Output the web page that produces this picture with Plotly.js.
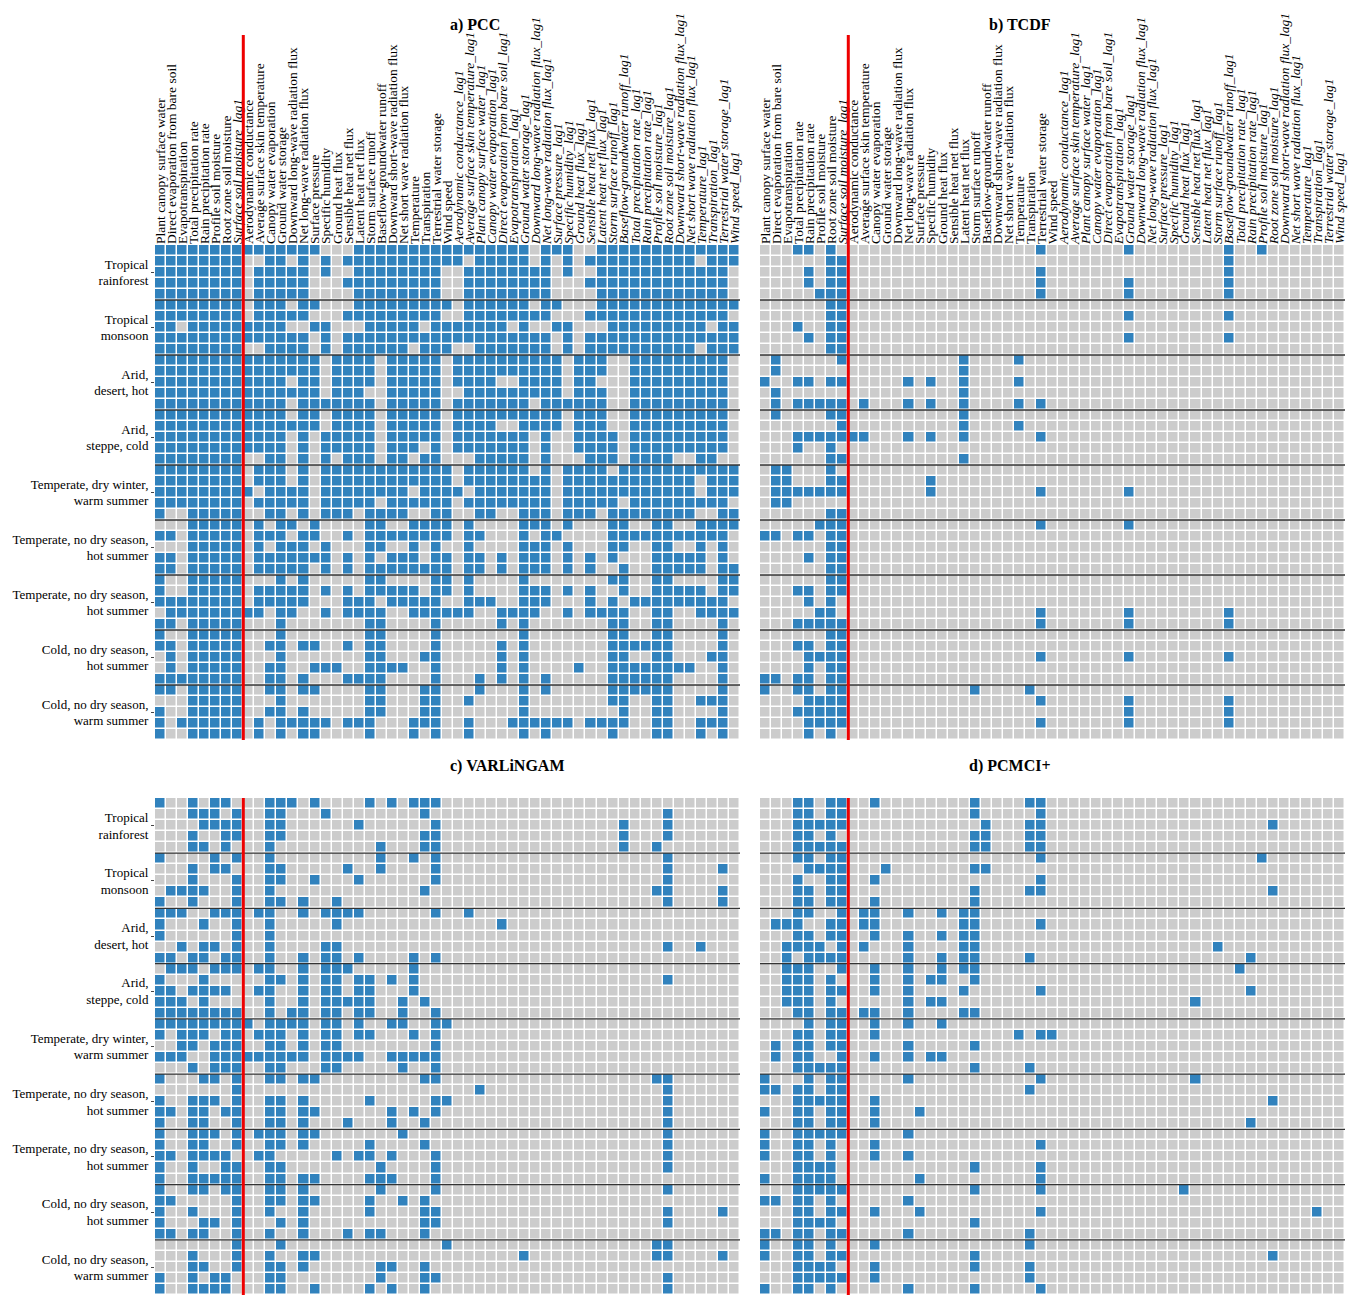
<!DOCTYPE html>
<html>
<head>
<meta charset="utf-8">
<script src="https://cdn.plot.ly/plotly-3.0.1.min.js"></script>
<style>body{margin:0;background:#fff}#plot{width:1351px;height:1296px}</style>
</head>
<body>
<div id="plot"></div>
<script>
const variables = [
  'Plant canopy surface water', 'Direct evaporation from bare soil', 'Evapotranspiration',
  'Total precipitation rate', 'Rain precipitation rate', 'Profile soil moisture',
  'Root zone soil moisture', 'Surface soil moisture_lag1', 'Aerodynamic conductance',
  'Average surface skin temperature', 'Canopy water evaporation', 'Ground water storage',
  'Downward long-wave radiation flux', 'Net long-wave radiation flux', 'Surface pressure',
  'Specific humidity', 'Ground heat flux', 'Sensible heat net flux', 'Latent heat net flux',
  'Storm surface runoff', 'Baseflow-groundwater runoff', 'Downward short-wave radiation flux',
  'Net short wave radiation flux', 'Temperature', 'Transpiration', 'Terrestrial water storage',
  'Wind speed', 'Aerodynamic conductance_lag1', 'Average surface skin temperature_lag1',
  'Plant canopy surface water_lag1', 'Canopy water evaporation_lag1',
  'Direct evaporation from bare soil_lag1', 'Evapotranspiration_lag1', 'Ground water storage_lag1',
  'Downward long-wave radiation flux_lag1', 'Net long-wave radiation flux_lag1',
  'Surface pressure_lag1', 'Specific humidity_lag1', 'Ground heat flux_lag1',
  'Sensible heat net flux_lag1', 'Latent heat net flux_lag1', 'Storm surface runoff_lag1',
  'Baseflow-groundwater runoff_lag1', 'Total precipitation rate_lag1', 'Rain precipitation rate_lag1',
  'Profile soil moisture_lag1', 'Root zone soil moisture_lag1', 'Downward short-wave radiation flux_lag1',
  'Net short wave radiation flux_lag1', 'Temperature_lag1', 'Transpiration_lag1',
  'Terrestrial water storage_lag1', 'Wind speed_lag1',
];

const climates = [
  'Tropical<br>rainforest', 'Tropical<br>monsoon', 'Arid,<br>desert, hot', 'Arid,<br>steppe, cold',
  'Temperate, dry winter,<br>warm summer', 'Temperate, no dry season,<br>hot summer',
  'Temperate, no dry season,<br>hot summer', 'Cold, no dry season,<br>hot summer',
  'Cold, no dry season,<br>warm summer',
];

// PCC: one string per row, 1 = link found
const pccRows = [
  '11111111 1111111000 11111111 11111111011100 1111111111111',
  '11111111 0011010101 11111111 11011111010101 1111111110111',
  '11111111 0111110100 11111111 00111111110100 1111111111110',
  '11111111 0111110001 11111111 00111111110001 1111111111110',
  '11111111 0111110000 11111111 00111111110000 1111111111110',
  '11111111 0111011000 11111111 10111111011000 1111111111111',
  '11111111 0111110001 11111111 00111111110001 1111111111110',
  '11011111 1111001100 01111101 11111101001100 0111111111011',
  '11111111 1111110101 11111111 11111111110101 1111111111111',
  '11111111 0011110101 11111011 10011111110101 1111111110111',
  '11111111 1111111011 11011111 01111111111011 1001111111110',
  '11111111 1111111011 11011111 01111111111011 1001111111110',
  '11111111 1111011011 11011111 01111001111011 0001111111110',
  '11111111 1111111011 10011111 00111111111011 1001111111110',
  '11111111 1111011111 11011111 01111111011111 1001111111110',
  '11111111 1111011011 11011111 01111111111011 1001111111110',
  '11111111 1111111011 11011111 01111001111011 1001111111110',
  '11111111 1111010111 11011111 01111111010011 1101111111110',
  '11111111 1111010111 11011101 01111111010011 1101111111110',
  '11111111 0011010101 11011011 00011111010001 1101111001100',
  '11111111 0111010111 11111111 10111111010111 1011111111111',
  '11111111 0111010111 11111111 10111111110111 1111111110111',
  '11111111 1011110111 11111011 11011111110111 1111111110111',
  '11111111 0111110111 11011111 10111111110111 1101111111110',
  '10011111 0011010111 01111001 10011001110111 0111111110011',
  '00011111 0101101000 01100111 10100001110100 0110011001111',
  '11011111 0111011001 01111111 10110001011000 0111111111110',
  '00011111 0101110100 01100101 00100001110100 0110011001010',
  '11011111 0111111101 01011101 10110101110101 0100011111010',
  '11011111 0111110101 01111111 10110101110101 0010011111011',
  '10011111 0001010000 01100001 10100001000000 0110011000011',
  '10011111 0111110101 01111101 10100001110101 0010011111011',
  '11111111 0111110001 11011111 00111001110001 0101111111110',
  '01111111 1101100101 11100111 11100111100101 1110011001111',
  '11011111 0001000000 01100001 00000101000000 0110011000010',
  '10011111 0001000000 01100001 00000001000000 0110011000010',
  '11011111 0011011001 01100001 00000101000000 0111111000010',
  '01011111 0001000000 01100011 00000101000000 0110011000110',
  '01011111 0011001110 01111001 00000101000010 0111111110010',
  '11111111 0011010001 11100001 00010101010000 0111111000010',
  '11011111 0011011000 01100011 00010001010000 0111111000010',
  '00011111 0001000000 01100011 00100001000000 0110011001110',
  '10011111 0011010000 01100011 00000001000000 0010011000010',
  '10111111 0101111101 11000111 00100011111101 1110011001110',
  '10011111 0101011000 01000101 00100001010000 0100011001010',
];

// TCDF, VARLiNGAM, PCMCI+: column indices of links for each row
const tcdfLinks = [
  [3, 4, 6, 25, 33, 42, 45], [6, 7, 42], [4, 6, 7, 25, 42], [4, 6, 7, 25, 33, 42], [5, 6, 7, 25, 33, 42],
  [6, 7], [6, 7, 33, 42], [3, 6, 7], [4, 6, 7, 33, 42], [6, 7],
  [1, 7, 18, 23], [1, 18], [0, 3, 4, 6, 7, 13, 15, 18, 23], [1, 18], [1, 3, 4, 5, 6, 7, 9, 13, 15, 18, 23, 25],
  [1, 6, 7, 18], [7, 18, 23], [3, 4, 5, 6, 7, 8, 9, 13, 15, 18, 25], [3, 6], [6, 7, 18],
  [1, 2, 6], [1, 2, 6, 7, 15], [1, 2, 3, 4, 5, 6, 7, 15, 25, 33], [1, 2], [6, 7],
  [5, 6, 7, 25, 33], [0, 1, 3, 4, 6, 7], [6, 7], [4, 6, 7], [6, 7],
  [6, 7], [3, 4, 6, 7], [4, 6], [5, 6, 25, 33, 42], [3, 4, 5, 6, 7, 25, 33, 42],
  [6, 7], [3, 4, 6, 7], [4, 5, 6, 7, 25, 33, 42], [4, 6, 7], [0, 1, 3, 4, 6, 7],
  [0, 3, 4, 6, 7, 19, 24], [4, 5, 6, 7, 25, 33, 42], [3, 4, 5, 6, 7, 33, 42], [4, 5, 6, 7, 25, 33, 42], [4, 6],
];

const varlingamLinks = [
  [0, 3, 5, 6, 10, 11, 12, 14, 19, 21, 23, 24, 25],
  [3, 4, 5, 7, 10, 11, 15, 24, 46],
  [4, 5, 6, 7, 10, 11, 18, 25, 42, 46],
  [3, 6, 7, 10, 11, 24, 25, 42, 46],
  [3, 4, 6, 10, 20, 24, 25, 42, 45],
  [0, 5, 7, 10, 20, 23, 25, 46],
  [3, 5, 6, 10, 11, 17, 20, 25, 46, 51],
  [3, 7, 10, 11, 14, 18, 25, 46],
  [1, 2, 3, 4, 7, 10, 24, 45, 46, 51],
  [0, 3, 7, 10, 11, 13, 16, 46, 51],
  [0, 1, 2, 5, 6, 7, 9, 10, 13, 15, 16, 17, 18, 25, 28],
  [0, 4, 7, 10, 16, 31],
  [0, 7, 10],
  [2, 4, 5, 7, 10, 15, 16, 46, 49],
  [0, 1, 3, 4, 6, 7, 10, 13, 15, 16, 18, 23, 25],
  [1, 2, 3, 5, 6, 7, 9, 10, 13, 15, 16, 17, 23],
  [0, 4, 10, 11, 13, 15, 16, 18, 19, 21, 23, 46],
  [0, 1, 3, 4, 5, 6, 9, 10, 13, 15, 16, 18, 19, 23],
  [0, 1, 2, 4, 10, 13, 15, 16, 17, 18, 19, 22, 24],
  [0, 1, 2, 3, 4, 5, 6, 7, 10, 12, 13, 15, 16, 18, 19, 22, 25],
  [0, 1, 2, 3, 4, 5, 6, 7, 8, 10, 11, 12, 13, 15, 16, 18, 21, 22, 25, 26],
  [0, 2, 3, 4, 6, 7, 9, 10, 11, 13, 15, 16, 18, 19, 23, 25],
  [2, 3, 5, 6, 7, 10, 11, 13, 15, 16, 25],
  [0, 1, 2, 5, 6, 7, 8, 9, 10, 11, 12, 13, 15, 16, 17, 18, 21, 22, 23, 24, 25],
  [3, 5, 6, 7, 10, 11, 15, 16, 22, 25],
  [0, 4, 5, 7, 10, 11, 13, 14, 24, 25, 45, 46],
  [7, 29, 46],
  [0, 3, 4, 5, 7, 10, 11, 13, 19, 25, 26, 46],
  [0, 1, 3, 4, 6, 7, 10, 11, 13, 14, 21, 23, 25, 46],
  [0, 3, 4, 7, 10, 11, 13, 17, 21, 24, 46],
  [0, 3, 4, 5, 7, 9, 10, 11, 13, 14, 22, 46],
  [0, 3, 4, 7, 10, 11, 13, 19, 24, 46],
  [0, 1, 3, 4, 5, 6, 9, 10, 16, 18, 19, 21, 25, 46],
  [0, 3, 6, 7, 10, 11, 20, 25, 46],
  [0, 3, 4, 5, 6, 7, 10, 11, 13, 14, 19, 20, 21, 25],
  [0, 3, 4, 6, 7, 10, 11, 13, 20, 25, 46],
  [0, 1, 7, 10, 11, 13, 14, 19, 22, 24],
  [0, 3, 7, 10, 13, 19, 24, 25, 46, 51],
  [0, 4, 5, 7, 11, 13, 24, 25, 46],
  [0, 1, 3, 4, 7, 10, 13, 17, 19, 20, 24],
  [7, 11, 26, 45, 46],
  [3, 7, 10, 13, 14, 33, 45, 46, 51],
  [3, 4, 7, 10, 11, 13, 20, 21, 24],
  [0, 3, 5, 6, 10, 11, 20, 24, 25, 46],
  [0, 3, 4, 5, 6, 10, 11, 14, 19, 21, 24, 46],
];

const pcmciLinks = [
  [3, 4, 6, 7, 10, 19, 24, 25], [3, 4, 6, 7, 19, 25], [3, 4, 5, 6, 7, 20, 24, 25, 46],
  [3, 4, 6, 19, 20, 24, 25], [3, 4, 5, 6, 7, 19, 20, 24, 25],
  [3, 4, 6, 7, 25, 45], [4, 5, 6, 7, 11, 19, 20], [3, 6, 7, 10, 25],
  [3, 4, 6, 7, 19, 24, 25, 46], [3, 4, 6, 7, 10, 19],
  [3, 4, 7, 9, 10, 13, 16, 18, 19], [1, 2, 3, 6, 7, 9, 10, 18, 19, 25],
  [3, 4, 6, 7, 10, 13, 16, 18, 19], [2, 3, 4, 5, 7, 9, 13, 18, 19, 41],
  [2, 4, 5, 6, 7, 13, 16, 18, 19, 24, 44],
  [2, 3, 4, 7, 10, 13, 16, 18, 19, 43], [2, 3, 4, 6, 10, 13, 15, 16, 19],
  [2, 3, 4, 6, 7, 10, 13, 18, 25, 44], [2, 3, 4, 6, 13, 15, 16, 39],
  [3, 4, 6, 7, 9, 10, 13, 18, 19], [4, 6, 7, 10, 13, 16],
  [3, 4, 6, 7, 10, 23, 25, 26], [1, 3, 4, 6, 7, 13, 19], [1, 3, 4, 7, 10, 13, 15, 16],
  [3, 4, 5, 6, 7, 19, 24], [0, 4, 6, 7, 13, 25, 39], [0, 1, 3, 4, 6, 7, 24],
  [3, 4, 5, 6, 7, 10, 46], [0, 3, 4, 6, 7, 10, 14], [3, 4, 6, 7, 10, 44],
  [0, 3, 4, 5, 6, 7, 13], [0, 3, 4, 6, 10, 25], [0, 3, 4, 6, 10, 13],
  [3, 4, 5, 6, 19, 25], [0, 3, 4, 5, 6, 14, 25], [3, 4, 5, 6, 7, 19, 25, 38],
  [0, 1, 3, 4, 6, 13], [3, 4, 6, 7, 10, 14, 25, 50], [3, 4, 5, 6, 19],
  [0, 1, 3, 4, 6, 7, 13, 24], [0, 3, 4, 6, 10, 24], [0, 3, 4, 6, 7, 19, 46],
  [3, 4, 5, 6, 10, 19, 24], [3, 4, 5, 6, 7, 10, 24], [0, 3, 4, 6, 13, 19, 25],
];

const W = 1351, H = 1296;
const nCols = variables.length;
const nRows = pccRows.length;
const px = (v) => v / W;
const py = (v) => 1 - v / H;

const fromStrings = (rows) => rows.map((r) => r.replace(/ /g, '').split('').map(Number));
const fromLinks = (rows) => rows.map((links) => {
  const row = new Array(nCols).fill(0);
  links.forEach((c) => { row[c] = 1; });
  return row;
});

const panels = [
  { z: fromStrings(pccRows), title: 'a) PCC', x: [155, 740], y: [245, 740], top: true, left: true },
  { z: fromLinks(tcdfLinks), title: 'b) TCDF', x: [760, 1345], y: [245, 740], top: true, left: false },
  { z: fromLinks(varlingamLinks), title: 'c) VARLiNGAM', x: [155, 740], y: [798, 1295], top: false, left: true },
  { z: fromLinks(pcmciLinks), title: 'd) PCMCI+', x: [760, 1345], y: [798, 1295], top: false, left: false },
];

const tickText = variables.map((v) => (v.endsWith('_lag1') ? `<i>${v}</i>` : v));
const colIdx = variables.map((_, i) => i);
const rowIdx = pccRows.map((_, i) => i);
const font = { family: 'Liberation Serif, Times New Roman, serif', color: '#000' };

const data = [];
const layout = {
  width: W,
  height: H,
  margin: { l: 0, r: 0, t: 0, b: 0 },
  paper_bgcolor: '#fff',
  plot_bgcolor: '#fff',
  showlegend: false,
  font,
  shapes: [],
  annotations: [],
};

panels.forEach((p, k) => {
  const n = k + 1;
  const xa = n === 1 ? 'x' : `x${n}`;
  const ya = n === 1 ? 'y' : `y${n}`;
  data.push({
    type: 'heatmap',
    z: p.z,
    x: colIdx,
    y: rowIdx,
    xaxis: xa,
    yaxis: ya,
    zmin: 0,
    zmax: 1,
    colorscale: [[0, '#cccccc'], [0.5, '#cccccc'], [0.5, '#3182bd'], [1, '#3182bd']],
    showscale: false,
    xgap: 1.5,
    ygap: 1.5,
    hoverinfo: 'skip',
  });
  layout[`xaxis${n === 1 ? '' : n}`] = {
    domain: [px(p.x[0]), px(p.x[1])],
    range: [-0.5, nCols - 0.5],
    side: 'top',
    tickmode: 'array',
    tickvals: p.top ? colIdx : [],
    ticktext: p.top ? tickText : [],
    tickangle: -90,
    tickfont: { ...font, size: 13.5 },
    showgrid: false,
    zeroline: false,
    ticks: '',
    anchor: ya,
  };
  const groupCenters = climates.map((_, g) => g * 5 + 2);
  layout[`yaxis${n === 1 ? '' : n}`] = {
    domain: [py(p.y[1]), py(p.y[0])],
    range: [nRows - 0.5, -0.5],
    tickmode: 'array',
    tickvals: groupCenters,
    ticktext: p.left ? climates : groupCenters.map(() => ''),
    ticks: p.left ? 'outside' : '',
    ticklen: 3,
    tickfont: { ...font, size: 13 },
    showgrid: false,
    zeroline: false,
    anchor: xa,
  };
  for (let g = 1; g < climates.length; g++) {
    layout.shapes.push({
      type: 'line', xref: xa, yref: ya,
      x0: -0.5, x1: nCols - 0.5, y0: g * 5 - 0.5, y1: g * 5 - 0.5,
      line: { color: '#333', width: 1.3 },
    });
  }
  layout.shapes.push({
    type: 'line', xref: xa, yref: 'paper',
    x0: 7.5, x1: 7.5,
    y0: py(p.y[1]), y1: p.top ? py(35) : py(p.y[0]),
    line: { color: '#ee0000', width: 3 },
  });
  layout.annotations.push({
    text: `<b>${p.title}</b>`,
    xref: 'paper', yref: 'paper',
    x: px((p.x[0] + p.x[1]) / 2), y: py(p.top ? 14 : 766),
    showarrow: false,
    font: { ...font, size: 16 },
  });
});

Plotly.newPlot('plot', data, layout, { staticPlot: true });
</script>
</body>
</html>
